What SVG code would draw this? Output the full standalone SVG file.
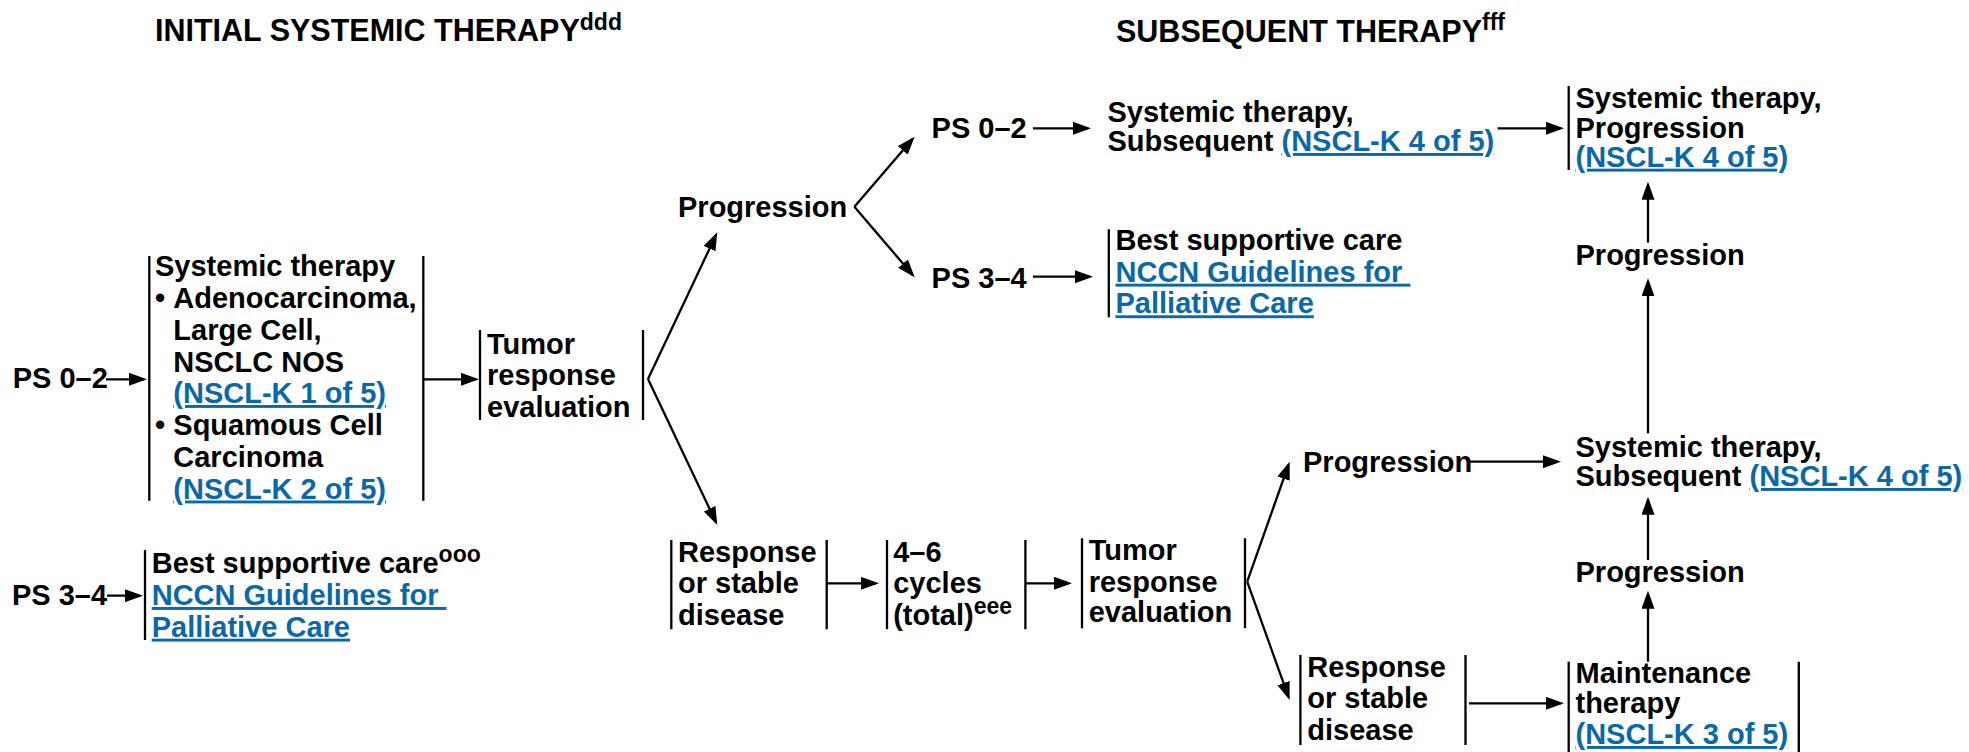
<svg xmlns="http://www.w3.org/2000/svg" width="1969" height="752" viewBox="0 0 1969 752">
<style>
text { font-family: "Liberation Sans", Arial, Helvetica, sans-serif; font-weight: bold; font-size: 29px; fill: #000; }
.h { font-size: 30.5px; }
.lk { fill: #0a68a8; text-decoration: underline; }
.sup { font-size: 23px; }
.bar { stroke: #000; stroke-width: 2.3; fill: none; }
.cn { stroke: #000; stroke-width: 2.3; fill: none; marker-end: url(#ah); }
</style>
<defs>
<marker id="ah" markerUnits="userSpaceOnUse" markerWidth="18" markerHeight="13" refX="15" refY="6.5" orient="auto" viewBox="0 0 18 13">
<path d="M0,0 L18,6.5 L0,13 z" fill="#000"/>
</marker>
</defs>
<rect width="1969" height="752" fill="#fff"/>

<g id="headers">
<text class="h" x="155" y="41">INITIAL SYSTEMIC THERAPY<tspan class="sup" dy="-11">ddd</tspan></text>
<text class="h" x="1116" y="41.7">SUBSEQUENT THERAPY<tspan class="sup" dy="-11.5">fff</tspan></text>
</g>

<g id="connectors">
<path class="cn" d="M106,379.3 H144"/>
<path class="cn" d="M423.3,379.3 H476"/>
<path class="cn" d="M107,595.7 H140"/>
<path class="cn" d="M648,379 L716,235"/>
<path class="cn" d="M648,379 L716,522.3"/>
<path class="cn" d="M854.4,206.7 L912.6,139"/>
<path class="cn" d="M854.4,206.7 L912.7,275"/>
<path class="cn" d="M1033,128.3 H1088"/>
<path class="cn" d="M1033,276.7 H1090"/>
<path class="cn" d="M1497.6,128.3 H1561"/>
<path class="cn" d="M826.7,583.3 H876"/>
<path class="cn" d="M1025.4,583.3 H1069"/>
<path class="cn" d="M1247.2,581.7 L1288.6,464.5"/>
<path class="cn" d="M1247.2,581.7 L1288.6,697.2"/>
<path class="cn" d="M1470,461.7 H1558"/>
<path class="cn" d="M1469,703.3 H1561"/>
<path class="cn" d="M1648,661.7 V593.7"/>
<path class="cn" d="M1648,560 V499.7"/>
<path class="cn" d="M1648,433.3 V281.3"/>
<path class="cn" d="M1648,242.7 V184.7"/>
</g>

<g id="ps02-initial">
<text x="12.7" y="388.3">PS 0–2</text>
</g>

<g id="systemic-initial">
<path class="bar" d="M149.3,256 V500.7 M423.3,256 V500.7"/>
<text x="155" y="276">Systemic therapy</text>
<text x="155" y="308">•</text>
<text x="173.3" y="308">Adenocarcinoma,</text>
<text x="173.3" y="340">Large Cell,</text>
<text x="173.3" y="371.7">NSCLC NOS</text>
<text x="173.3" y="403"><tspan class="lk">(NSCL-K 1 of 5)</tspan></text>
<text x="155" y="435">•</text>
<text x="173.3" y="435">Squamous Cell</text>
<text x="173.3" y="467">Carcinoma</text>
<text x="173.3" y="498.5"><tspan class="lk">(NSCL-K 2 of 5)</tspan></text>
</g>

<g id="tumor-eval-1">
<path class="bar" d="M480,330 V420 M643,330 V420"/>
<text x="487" y="353.5">Tumor</text>
<text x="487" y="385">response</text>
<text x="487" y="416.7">evaluation</text>
</g>

<g id="ps34-initial">
<text x="12" y="605">PS 3–4</text>
</g>

<g id="bsc-initial">
<path class="bar" d="M145,550 V640"/>
<text x="151.7" y="573.3">Best supportive care<tspan class="sup" dy="-11.6">ooo</tspan></text>
<text x="151.7" y="605"><tspan class="lk">NCCN Guidelines for&#160;</tspan></text>
<text x="151.7" y="636.7"><tspan class="lk">Palliative Care</tspan></text>
</g>

<g id="progression-1">
<text x="678" y="216.7">Progression</text>
</g>

<g id="ps02-sub">
<text x="931.6" y="138.3">PS 0–2</text>
</g>

<g id="ps34-sub">
<text x="931.6" y="287.7">PS 3–4</text>
</g>

<g id="systemic-subsequent-1">
<text x="1107.5" y="121.5">Systemic therapy,</text>
<text x="1107.5" y="151">Subsequent <tspan class="lk">(NSCL-K 4 of 5)</tspan></text>
</g>

<g id="bsc-sub">
<path class="bar" d="M1108.8,229.3 V317.3"/>
<text x="1115.5" y="250">Best supportive care</text>
<text x="1115.5" y="281.7"><tspan class="lk">NCCN Guidelines for&#160;</tspan></text>
<text x="1115.5" y="313.3"><tspan class="lk">Palliative Care</tspan></text>
</g>

<g id="systemic-progression">
<path class="bar" d="M1568.7,86 V170"/>
<text x="1575.5" y="108.3">Systemic therapy,</text>
<text x="1575.5" y="138.3">Progression</text>
<text x="1575.5" y="166.7"><tspan class="lk">(NSCL-K 4 of 5)</tspan></text>
</g>

<g id="progression-right-top">
<text x="1575.5" y="264.5">Progression</text>
</g>

<g id="response-1">
<path class="bar" d="M671.3,540 V629.3 M826.7,540 V629.3"/>
<text x="678" y="561.7">Response</text>
<text x="678" y="593.3">or stable</text>
<text x="678" y="625">disease</text>
</g>

<g id="cycles">
<path class="bar" d="M887,540 V629.3 M1025.4,540 V629.3"/>
<text x="893.2" y="561.7">4–6</text>
<text x="893.2" y="593.3">cycles</text>
<text x="893.2" y="625">(total)<tspan class="sup" dy="-11.5">eee</tspan></text>
</g>

<g id="tumor-eval-2">
<path class="bar" d="M1082,538.3 V628.3 M1245,538.3 V628.3"/>
<text x="1088.7" y="560">Tumor</text>
<text x="1088.7" y="591.7">response</text>
<text x="1088.7" y="621.7">evaluation</text>
</g>

<g id="progression-2">
<text x="1303" y="471.7">Progression</text>
</g>

<g id="systemic-subsequent-2">
<text x="1575.5" y="456.7">Systemic therapy,</text>
<text x="1575.5" y="486">Subsequent <tspan class="lk">(NSCL-K 4 of 5)</tspan></text>
</g>

<g id="progression-right-low">
<text x="1575.5" y="581.7">Progression</text>
</g>

<g id="response-2">
<path class="bar" d="M1300.4,655 V745 M1465.5,655 V745"/>
<text x="1307.3" y="676.7">Response</text>
<text x="1307.3" y="708.3">or stable</text>
<text x="1307.3" y="740">disease</text>
</g>

<g id="maintenance">
<path class="bar" d="M1568.7,661.7 V752 M1798.8,661.7 V752"/>
<text x="1575.5" y="683.3">Maintenance</text>
<text x="1575.5" y="713.3">therapy</text>
<text x="1575.5" y="744"><tspan class="lk">(NSCL-K 3 of 5)</tspan></text>
</g>
</svg>
